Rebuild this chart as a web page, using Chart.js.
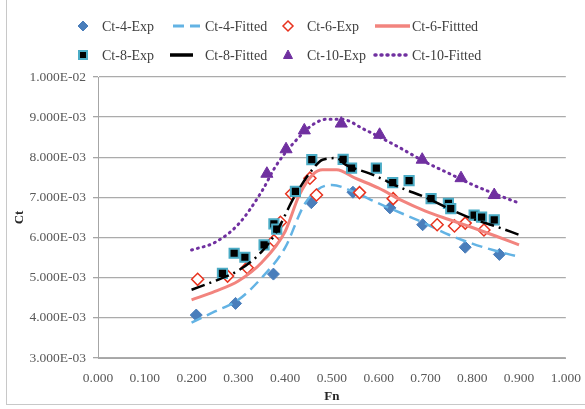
<!DOCTYPE html>
<html>
<head>
<meta charset="utf-8">
<script src="https://cdn.jsdelivr.net/npm/chart.js@4/dist/chart.umd.min.js"></script>
<style>
	html, body { margin: 0; padding: 0; background: #fff; }
	#wrap { position: relative; width: 585px; height: 409px; }
	#frame { position: absolute; left: 6px; top: -2px; width: 600px; height: 406px;
		border-left: 1px solid #c8c8c8; border-bottom: 1px solid #c8c8c8; }
</style>
</head>
<body>
<div id="wrap">
	<div id="frame"></div>
	<canvas id="chart" width="585" height="409"></canvas>
</div>
<script>
// Experimental points [Fn, Ct x 1e-3]
const ct4Exp = [[0.210, 4.07], [0.294, 4.36], [0.375, 5.09], [0.456, 6.87], [0.545, 7.13],
	[0.624, 6.74], [0.694, 6.32], [0.785, 5.76], [0.858, 5.58]];
const ct6Exp = [[0.213, 4.96], [0.277, 5.04], [0.319, 5.25], [0.376, 5.92], [0.390, 6.38],
	[0.414, 7.09], [0.453, 7.48], [0.467, 7.06], [0.559, 7.12], [0.631, 6.97],
	[0.725, 6.32], [0.762, 6.29], [0.785, 6.36], [0.825, 6.19]];
const ct8Exp = [[0.266, 5.11], [0.291, 5.61], [0.314, 5.51], [0.355, 5.82], [0.376, 6.34],
	[0.382, 6.21], [0.422, 7.15], [0.457, 7.94], [0.524, 7.95], [0.542, 7.73],
	[0.595, 7.73], [0.630, 7.37], [0.665, 7.42], [0.712, 6.97], [0.749, 6.85],
	[0.754, 6.72], [0.804, 6.56], [0.820, 6.51], [0.847, 6.44]];
const ct10Exp = [[0.361, 7.59], [0.402, 8.20], [0.441, 8.67], [0.520, 8.84], [0.602, 8.56],
	[0.693, 7.94], [0.776, 7.48], [0.847, 7.06]];

// Fitted curves [Fn, Ct x 1e-3]
const ct4Fit = [[0.20, 3.88], [0.25, 4.16], [0.30, 4.45], [0.35, 5.00], [0.40, 5.75],
	[0.44, 6.80], [0.47, 7.20], [0.50, 7.31], [0.55, 7.12], [0.60, 6.85], [0.65, 6.60],
	[0.70, 6.35], [0.75, 6.07], [0.80, 5.85], [0.85, 5.67], [0.90, 5.52]];
const ct6Fit = [[0.20, 4.45], [0.25, 4.66], [0.30, 4.92], [0.35, 5.38], [0.40, 6.15],
	[0.43, 7.05], [0.46, 7.58], [0.48, 7.69], [0.51, 7.69], [0.55, 7.48], [0.60, 7.23],
	[0.65, 6.92], [0.70, 6.66], [0.75, 6.45], [0.80, 6.25], [0.85, 6.04], [0.90, 5.82]];
const ct8Fit = [[0.20, 4.70], [0.25, 4.92], [0.30, 5.18], [0.35, 5.65], [0.38, 6.11],
	[0.42, 7.02], [0.46, 7.72], [0.48, 7.94], [0.51, 7.98], [0.53, 7.81], [0.58, 7.60],
	[0.65, 7.23], [0.70, 7.00], [0.75, 6.72], [0.80, 6.47], [0.85, 6.28], [0.90, 6.07]];
const ct10Fit = [[0.20, 5.69], [0.25, 5.88], [0.30, 6.33], [0.35, 7.15], [0.38, 7.78],
	[0.42, 8.38], [0.46, 8.82], [0.49, 8.95], [0.52, 8.95], [0.57, 8.69], [0.64, 8.27],
	[0.70, 7.88], [0.75, 7.60], [0.80, 7.32], [0.85, 7.08], [0.90, 6.86]];

const xTicks = [0, 0.1, 0.2, 0.3, 0.4, 0.5, 0.6, 0.7, 0.8, 0.9, 1.0];
const yTicks = [0.003, 0.004, 0.005, 0.006, 0.007, 0.008, 0.009, 0.010];

const SERIF = "'Liberation Serif', 'DejaVu Serif', serif";

function pts(arr) {
	return arr.map(p => ({ x: p[0], y: p[1] / 1000 }));
}

function sci(v) {
	const s = v.toExponential(3).split("e");
	const e = parseInt(s[1], 10);
	const sign = e < 0 ? "-" : "+";
	return s[0] + "E" + sign + String(Math.abs(e)).padStart(2, "0");
}

function expSet(label, data, style, order) {
	return Object.assign({
		label: label, data: pts(data), showLine: false, order: order
	}, style);
}

function fitSet(label, data, style, order) {
	return Object.assign({
		label: label, data: pts(data), showLine: true, pointRadius: 0,
		pointHoverRadius: 0, cubicInterpolationMode: "monotone", fill: false, order: order
	}, style);
}

const datasets = [
	expSet("Ct-4-Exp", ct4Exp, { pointStyle: "rectRot", pointRadius: 6, backgroundColor: "#4a7ebb", borderColor: "#4a7ebb", borderWidth: 1 }, 8),
	fitSet("Ct-4-Fitted", ct4Fit, { borderColor: "#63b3e4", borderWidth: 2.5, borderDash: [11, 6] }, 7),
	expSet("Ct-6-Exp", ct6Exp, { pointStyle: "rectRot", pointRadius: 6, backgroundColor: "#ffffff", borderColor: "#e8321e", borderWidth: 1.5 }, 6),
	fitSet("Ct-6-Fittted", ct6Fit, { borderColor: "#f2847e", borderWidth: 3 }, 5),
	expSet("Ct-8-Exp", ct8Exp, { pointStyle: "rect", pointRadius: 6.5, backgroundColor: "#000000", borderColor: "#4bacc6", borderWidth: 2 }, 4),
	fitSet("Ct-8-Fitted", ct8Fit, { borderColor: "#000000", borderWidth: 2.5, borderDash: [14, 5, 2, 5] }, 3),
	expSet("Ct-10-Exp", ct10Exp, { pointStyle: "triangle", pointRadius: 7, backgroundColor: "#7030a0", borderColor: "#7030a0", borderWidth: 1 }, 2),
	fitSet("Ct-10-Fitted", ct10Fit, { borderColor: "#7030a0", borderWidth: 3, borderDash: [1, 5], borderCapStyle: "round" }, 1)
];

// Legend in four fixed columns, two rows: marker x / line start, line end, text x
const legendCols = [
	{ x0: 83, x1: 83, tx: 102 },
	{ x0: 173, x1: 200, tx: 205 },
	{ x0: 288, x1: 288, tx: 307 },
	{ x0: 375, x1: 410, tx: 412 }
];
const legendRows = [26, 55];

function drawShape(ctx, style, r, x, y) {
	if (style === "rectRot") {
		ctx.moveTo(x, y - r); ctx.lineTo(x + r, y); ctx.lineTo(x, y + r); ctx.lineTo(x - r, y); ctx.closePath();
	} else if (style === "rect") {
		ctx.rect(x - r * 0.8, y - r * 0.8, r * 1.6, r * 1.6);
	} else if (style === "triangle") {
		ctx.moveTo(x, y - r); ctx.lineTo(x + r * 0.9, y + r * 0.7); ctx.lineTo(x - r * 0.9, y + r * 0.7); ctx.closePath();
	}
}

const legendPlugin = {
	id: "gridLegend",
	afterDraw(chart) {
		const ctx = chart.ctx;
		ctx.save();
		ctx.font = "14px " + SERIF;
		ctx.textBaseline = "middle";
		chart.data.datasets.forEach((ds, i) => {
			const c = legendCols[i % 4];
			const y = legendRows[Math.floor(i / 4)];
			ctx.save();
			if (ds.showLine) {
				ctx.strokeStyle = ds.borderColor;
				ctx.lineWidth = ds.borderWidth + 0.5;
				ctx.lineCap = ds.borderCapStyle || "butt";
				ctx.beginPath();
				if (ds.label === "Ct-8-Fitted") {
					ctx.lineWidth = 3.5;
					ctx.moveTo(170, y); ctx.lineTo(193, y);
				} else {
					ctx.setLineDash(ds.borderDash || []);
					ctx.moveTo(c.x0, y); ctx.lineTo(c.x1, y);
				}
				ctx.stroke();
			} else {
				ctx.fillStyle = ds.backgroundColor;
				ctx.strokeStyle = ds.borderColor;
				ctx.lineWidth = ds.borderWidth;
				ctx.beginPath();
				drawShape(ctx, ds.pointStyle, 5, c.x0, y);
				ctx.fill();
				ctx.stroke();
			}
			ctx.restore();
			ctx.fillStyle = "#404040";
			ctx.fillText(ds.label, c.tx, y + 1);
		});
		ctx.restore();
	}
};

new Chart(document.getElementById("chart").getContext("2d"), {
	type: "scatter",
	data: { datasets: datasets },
	plugins: [legendPlugin],
	options: {
		responsive: false,
		animation: false,
		layout: { padding: { top: 77, right: 14, left: 12, bottom: 5 } },
		plugins: { legend: { display: false }, tooltip: { enabled: false } },
		scales: {
			x: {
				type: "linear", min: 0, max: 1,
				afterBuildTicks: (s) => { s.ticks = xTicks.map(v => ({ value: v })); },
				afterFit: (s) => { s.height = 46; },
				ticks: { callback: (v) => v.toFixed(3), color: "#595959", font: { family: SERIF, size: 13.5 }, maxRotation: 0, padding: 4 },
				grid: { display: false, drawOnChartArea: false },
				border: { color: "#a6a6a6" },
				title: { display: true, text: "Fn", color: "#262626", font: { family: SERIF, size: 13, weight: "bold" }, padding: { top: 0, bottom: 0 } }
			},
			y: {
				type: "linear", min: 0.003, max: 0.010,
				afterBuildTicks: (s) => { s.ticks = yTicks.map(v => ({ value: v })); },
				afterFit: (s) => { s.width = 86; },
				ticks: { callback: (v) => sci(v), color: "#595959", font: { family: SERIF, size: 13.5 }, padding: 7 },
				grid: { color: "#ababab", lineWidth: 1.3, tickLength: 5, tickColor: "#a6a6a6" },
				border: { color: "#a6a6a6" },
				title: { display: true, text: "Ct", color: "#262626", font: { family: SERIF, size: 13, weight: "bold" }, padding: { top: 0, bottom: 0 } }
			}
		}
	}
});
</script>
</body>
</html>
